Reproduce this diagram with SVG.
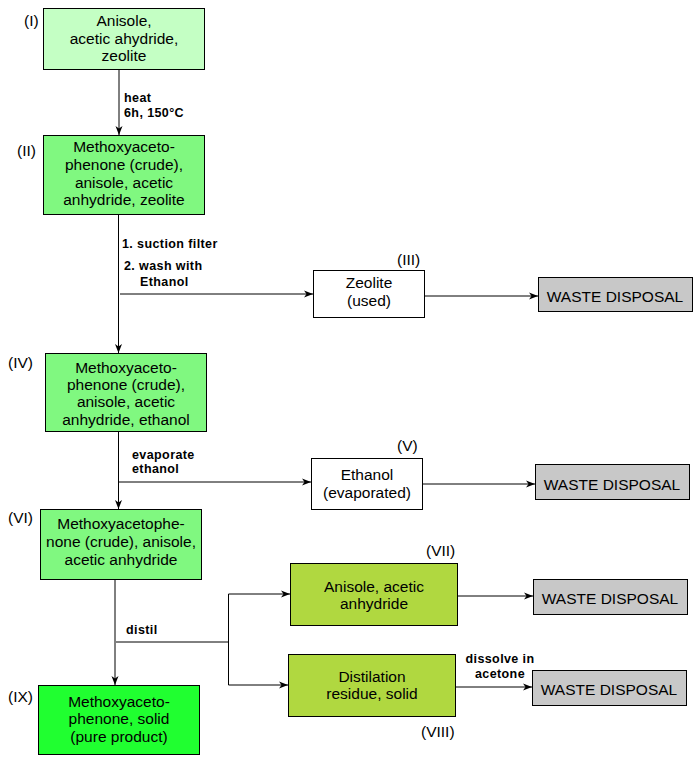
<svg xmlns="http://www.w3.org/2000/svg" width="700" height="760" viewBox="0 0 700 760">
<defs>
<marker id="ah" markerUnits="userSpaceOnUse" markerWidth="10" markerHeight="8" refX="9" refY="4" orient="auto">
<path d="M0,0.5 L9,4 L0,7.5 L2.5,4 Z" fill="#000"/>
</marker>
<style>
.box{stroke:#000;stroke-width:1}
.t{font-family:"Liberation Sans",Arial,sans-serif;font-size:15.5px;fill:#000;text-anchor:middle}
.n{font-family:"Liberation Sans",Arial,sans-serif;font-size:15.5px;fill:#000}
.b{font-family:"Liberation Sans",Arial,sans-serif;font-size:12.5px;font-weight:bold;fill:#000;letter-spacing:0.4px}
.c{fill:none;stroke:#000;stroke-width:1}
.g1{fill:#C4FFC4}.g2{fill:#80F880}.g3{fill:#20FF30}.g4{fill:#B0D840}.w{fill:#FFFFFF}.gr{fill:#C8C8C8}
</style>
</defs>
<rect width="700" height="760" fill="#fff"/>

<g id="connectors">
<path class="c" d="M119,69 V135" marker-end="url(#ah)"/>
<path class="c" d="M118.5,214 V353" marker-end="url(#ah)"/>
<path class="c" d="M120,294 H313" marker-end="url(#ah)"/>
<path class="c" d="M424,296 H538" marker-end="url(#ah)"/>
<path class="c" d="M118.5,431 V509" marker-end="url(#ah)"/>
<path class="c" d="M118,482 H311" marker-end="url(#ah)"/>
<path class="c" d="M422,484 H535" marker-end="url(#ah)"/>
<path class="c" d="M115,579 V685" marker-end="url(#ah)"/>
<path class="c" d="M116,642 H228.5"/>
<path class="c" d="M228.5,642 V594 H290" marker-end="url(#ah)"/>
<path class="c" d="M228.5,642 V685 H288" marker-end="url(#ah)"/>
<path class="c" d="M457,596 H533" marker-end="url(#ah)"/>
<path class="c" d="M456,687 H532" marker-end="url(#ah)"/>
<text class="b" x="124" y="102">heat</text>
<text class="b" x="124" y="117">6h, 150°C</text>
<text class="b" x="122" y="248">1. suction filter</text>
<text class="b" x="124" y="270">2. wash with</text>
<text class="b" x="140" y="286">Ethanol</text>
<text class="b" x="132" y="459">evaporate</text>
<text class="b" x="132" y="473">ethanol</text>
<text class="b" x="126" y="634">distil</text>
<text class="b" x="500" y="663" text-anchor="middle">dissolve in</text>
<text class="b" x="500" y="678" text-anchor="middle">acetone</text>
</g>

<g id="node-I">
<rect class="box g1" x="43.5" y="8.5" width="161" height="61"/>
<text class="n" x="24" y="26">(I)</text>
<text class="t" x="124" y="26">Anisole,</text>
<text class="t" x="124" y="44">acetic ahydride,</text>
<text class="t" x="124" y="61">zeolite</text>
</g>

<g id="node-II">
<rect class="box g2" x="43.5" y="135.5" width="161" height="79"/>
<text class="n" x="17" y="156">(II)</text>
<text class="t" x="124" y="152">Methoxyaceto-</text>
<text class="t" x="124" y="170">phenone (crude),</text>
<text class="t" x="124" y="188">anisole, acetic</text>
<text class="t" x="124" y="205">anhydride, zeolite</text>
</g>

<g id="node-III">
<rect class="box w" x="313.5" y="270.5" width="111" height="47"/>
<text class="n" x="397" y="265">(III)</text>
<text class="t" x="369" y="288">Zeolite</text>
<text class="t" x="369" y="306">(used)</text>
</g>

<g id="node-waste1">
<rect class="box gr" x="538.5" y="277.5" width="154" height="34"/>
<text class="t" x="615" y="302">WASTE DISPOSAL</text>
</g>

<g id="node-IV">
<rect class="box g2" x="45.5" y="353.5" width="161" height="78"/>
<text class="n" x="8" y="368">(IV)</text>
<text class="t" x="126" y="373">Methoxyaceto-</text>
<text class="t" x="126" y="390">phenone (crude),</text>
<text class="t" x="126" y="407">anisole, acetic</text>
<text class="t" x="126" y="425">anhydride, ethanol</text>
</g>

<g id="node-V">
<rect class="box w" x="311.5" y="458.5" width="111" height="51"/>
<text class="n" x="397" y="451">(V)</text>
<text class="t" x="367" y="480">Ethanol</text>
<text class="t" x="367" y="498">(evaporated)</text>
</g>

<g id="node-waste2">
<rect class="box gr" x="535.5" y="464.5" width="154" height="35"/>
<text class="t" x="612" y="490">WASTE DISPOSAL</text>
</g>

<g id="node-VI">
<rect class="box g2" x="40.5" y="509.5" width="161" height="70"/>
<text class="n" x="8" y="523">(VI)</text>
<text class="t" x="121" y="529">Methoxyacetophe-</text>
<text class="t" x="121" y="547">none (crude), anisole,</text>
<text class="t" x="121" y="565">acetic anhydride</text>
</g>

<g id="node-VII">
<rect class="box g4" x="290.5" y="563.5" width="167" height="62"/>
<text class="n" x="426" y="556">(VII)</text>
<text class="t" x="374" y="592">Anisole, acetic</text>
<text class="t" x="374" y="609">anhydride</text>
</g>

<g id="node-waste3">
<rect class="box gr" x="533.5" y="579.5" width="154" height="35"/>
<text class="t" x="610" y="604">WASTE DISPOSAL</text>
</g>

<g id="node-VIII">
<rect class="box g4" x="288.5" y="654.5" width="167" height="62"/>
<text class="n" x="421" y="737">(VIII)</text>
<text class="t" x="372" y="682">Distilation</text>
<text class="t" x="372" y="699">residue, solid</text>
</g>

<g id="node-waste4">
<rect class="box gr" x="532.5" y="670.5" width="154" height="35"/>
<text class="t" x="609" y="695">WASTE DISPOSAL</text>
</g>

<g id="node-IX">
<rect class="box g3" x="38.5" y="685.5" width="161" height="69"/>
<text class="n" x="8" y="702">(IX)</text>
<text class="t" x="119" y="707">Methoxyaceto-</text>
<text class="t" x="119" y="724">phenone, solid</text>
<text class="t" x="119" y="742">(pure product)</text>
</g>
</svg>
